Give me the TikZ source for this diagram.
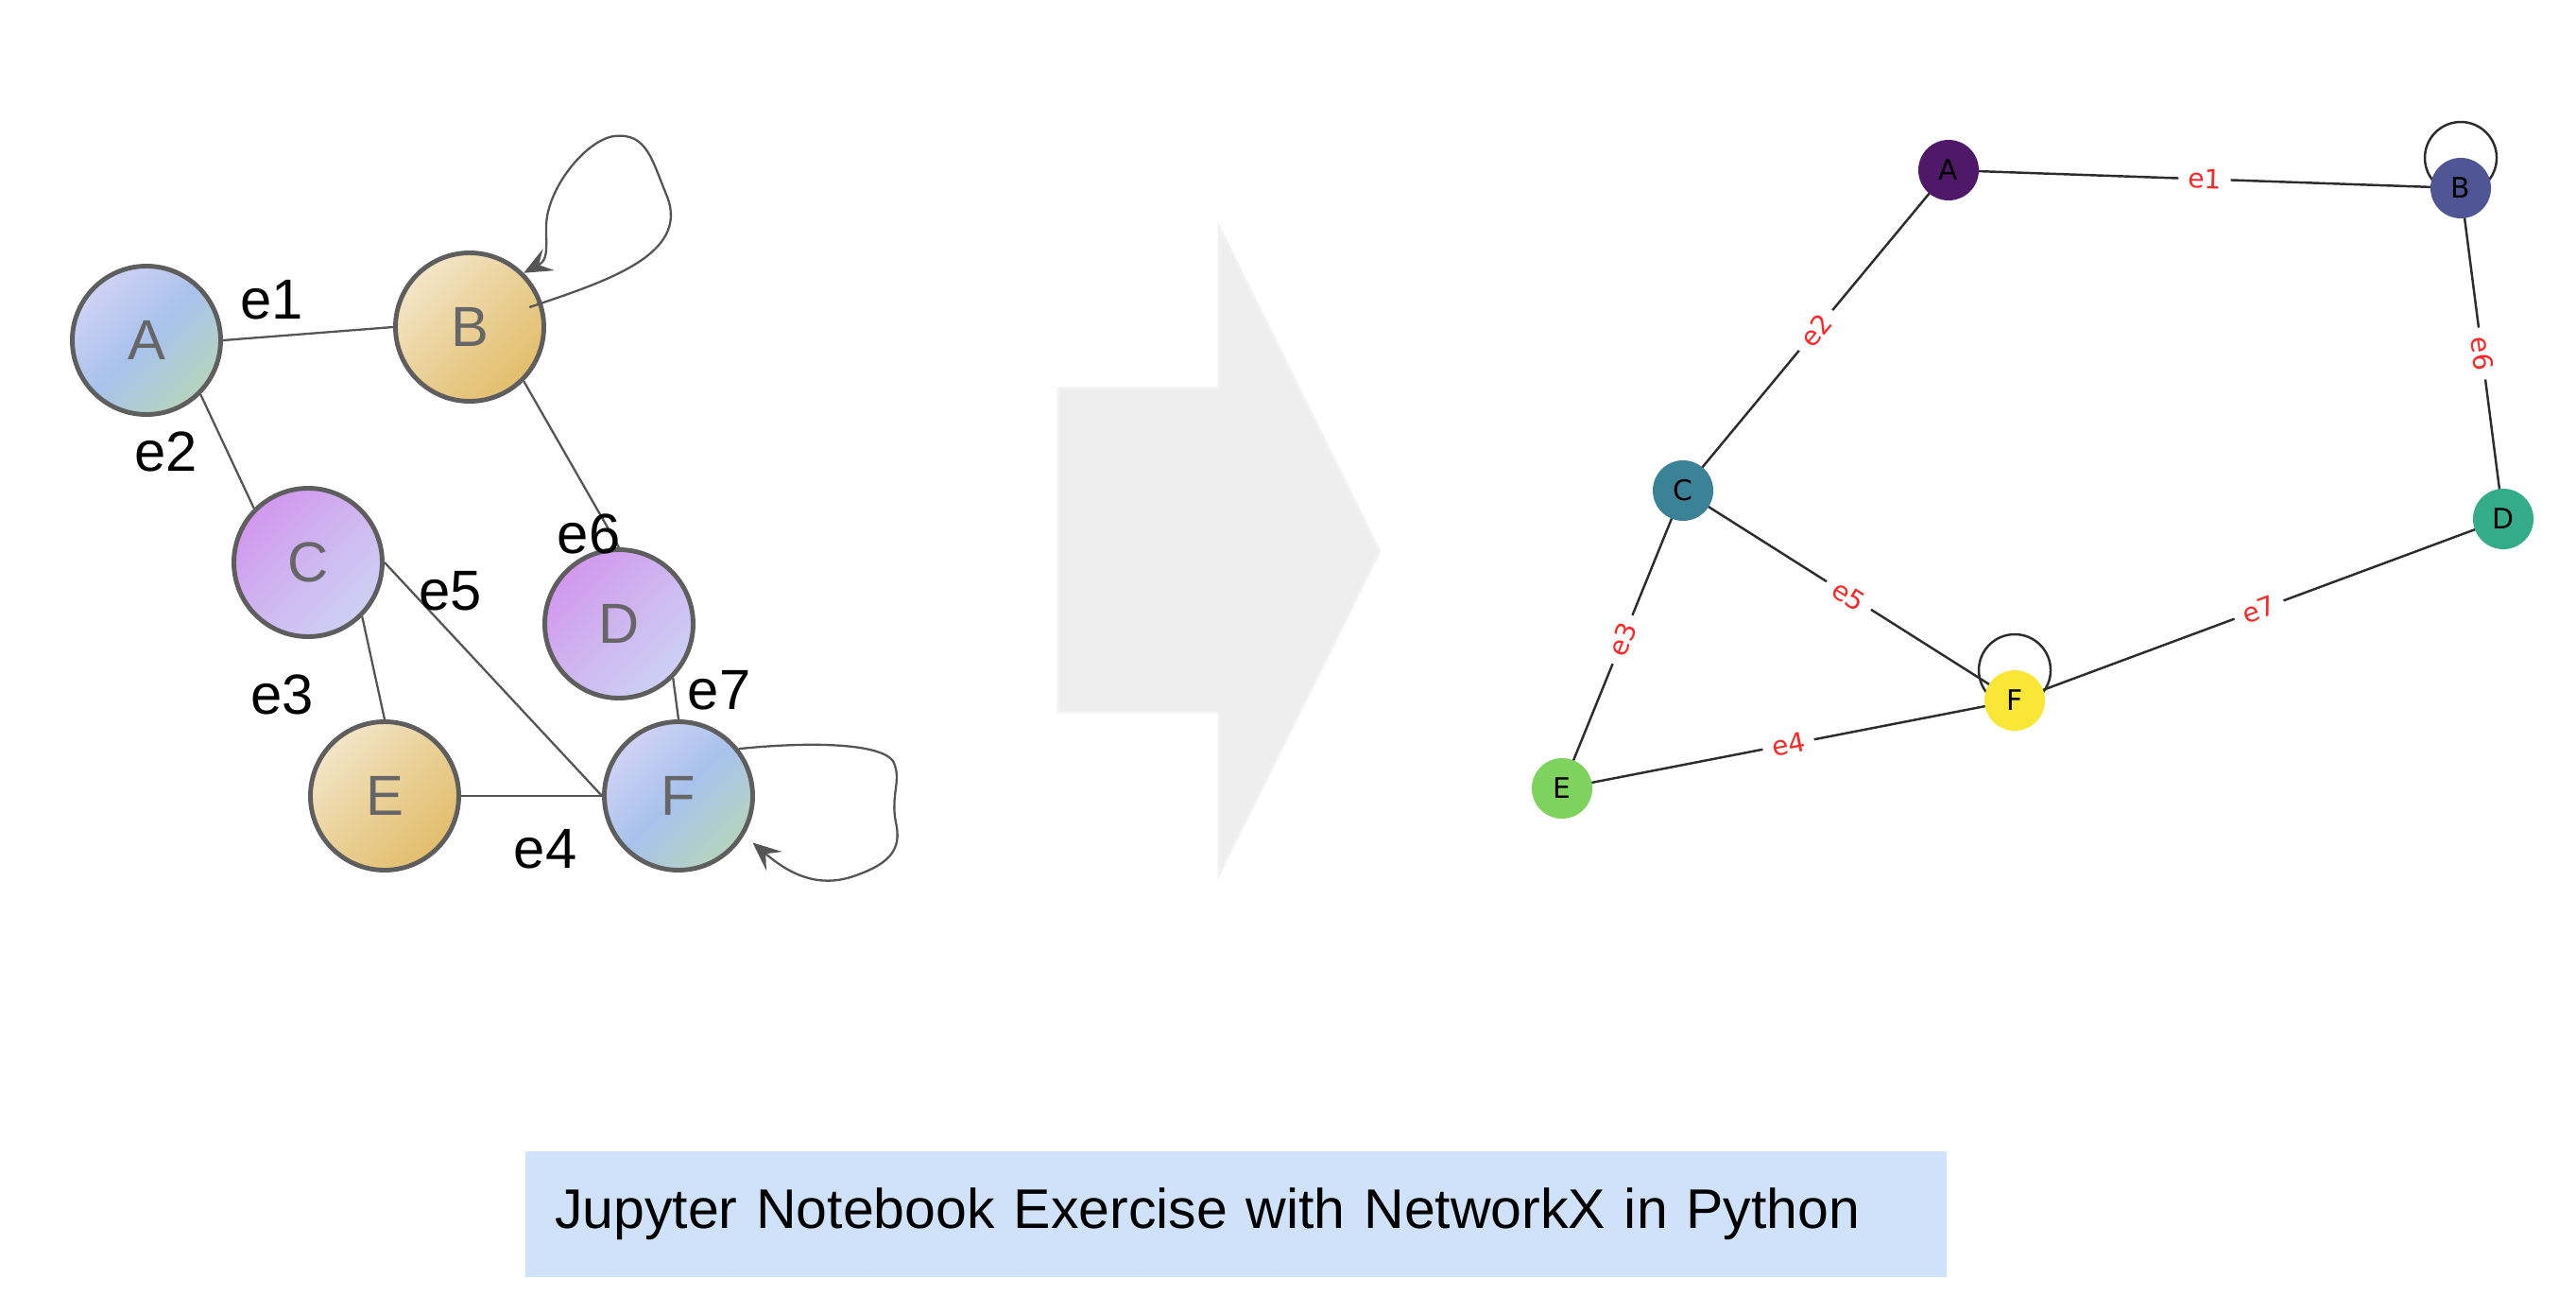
\documentclass[tikz,border=0pt]{standalone}
\usepackage{fontspec}
\setmainfont{Liberation Sans}
\newfontfamily\nxfont{DejaVu Sans}
\usetikzlibrary{arrows.meta}
\definecolor{rimgray}{RGB}{94,94,94}
\definecolor{linkgray}{RGB}{85,85,85}
\definecolor{lettergray}{RGB}{102,102,102}
\definecolor{lav}{RGB}{208,210,245}
\definecolor{skyb}{RGB}{168,194,236}
\definecolor{sage}{RGB}{182,212,190}
\definecolor{sand}{RGB}{243,229,200}
\definecolor{wheat}{RGB}{234,208,150}
\definecolor{gold}{RGB}{226,190,108}
\definecolor{orchid}{RGB}{210,152,238}
\definecolor{lilac}{RGB}{207,182,240}
\definecolor{mist}{RGB}{205,208,244}
\definecolor{arrowgray}{RGB}{238,238,238}
\definecolor{arrowrim}{RGB}{242,242,242}
\definecolor{capblue}{RGB}{207,226,249}
\definecolor{vA}{RGB}{80,24,104}
\definecolor{vB}{RGB}{80,85,150}
\definecolor{vC}{RGB}{60,130,150}
\definecolor{vD}{RGB}{52,172,138}
\definecolor{vE}{RGB}{126,210,94}
\definecolor{vF}{RGB}{250,230,55}
\definecolor{nxline}{RGB}{45,45,45}
\definecolor{nxred}{RGB}{255,40,40}
\tikzset{
  gnode/.style={circle, draw=rimgray, line width=1.4pt, minimum size=1.57cm,
    inner sep=0pt, text=lettergray, font=\fontsize{17}{20}\selectfont},
  bluenode/.style={gnode, top color=lav, bottom color=sage, middle color=skyb, shading angle=45},
  goldnode/.style={gnode, top color=sand, bottom color=gold, middle color=wheat, shading angle=45},
  purplenode/.style={gnode, top color=orchid, bottom color=mist, middle color=lilac, shading angle=45},
  link/.style={draw=linkgray, line width=0.65pt},
  selfloop/.style={draw=linkgray, line width=0.65pt, -{Stealth[length=3mm,width=2.6mm,inset=1.2mm]}},
  elabel/.style={font=\fontsize{17}{20}\selectfont, inner sep=0pt},
  nxnode/.style={circle, minimum size=0.64cm, inner sep=0pt, font=\nxfont\fontsize{8.5}{10}\selectfont},
  nxedge/.style={draw=nxline, line width=0.7pt},
  nxlabel/.style={midway, sloped, fill=white, inner sep=1mm, text=nxred,
    font=\nxfont\fontsize{8}{9}\selectfont},
  titlebox/.style={fill=capblue, text width=14.42cm, inner xsep=3.1mm, minimum height=1.33cm,
    align=left, font=\fontsize{16.8}{20}\selectfont}
}
\begin{document}
\begin{tikzpicture}
\useasboundingbox (0,0) rectangle (27.26,13.70);
% hand drawn graph
\node[bluenode] (A) at (1.55,10.10) {A};
\node[goldnode] (B) at (4.97,10.24) {B};
\node[purplenode] (C) at (3.26,7.75) {C};
\node[purplenode] (D) at (6.55,7.10) {D};
\node[goldnode] (E) at (4.07,5.28) {E};
\node[bluenode] (F) at (7.18,5.28) {F};
\draw[link] (A.east) -- (B.west);
\draw[link] (A.-45) -- (C.135);
\draw[link] (C.-45) -- (E.north);
\draw[link] (E.east) -- (F.west);
\draw[link] (C.east) -- (F.west);
\draw[link] (B.-45) -- (D.north);
\draw[link] (D.-45) -- (F.north);
\node[elabel] at (2.88,10.53) {e1};
\node[elabel] at (1.76,8.92) {e2};
\node[elabel] at (2.99,6.35) {e3};
\node[elabel] at (5.77,4.72) {e4};
\node[elabel] at (4.77,7.45) {e5};
\node[elabel] at (6.23,8.05) {e6};
\node[elabel] at (7.61,6.40) {e7};
% loops
\draw[selfloop] ([xshift=-1.5mm]B.15) .. controls (6.4,10.72) and (7.3,11.0) .. (7.06,11.62)
  .. controls (6.9,12.0) and (6.85,12.3) .. (6.5,12.26)
  .. controls (6.2,12.22) and (5.78,11.7) .. (5.78,11.3)
  .. controls (5.78,11.05) and (5.8,10.95) .. (B.45);
\draw[selfloop, shorten >=1.2mm] (F.38) .. controls (8.5,5.85) and (9.3,5.85) .. (9.45,5.65)
  .. controls (9.55,5.45) and (9.42,5.3) .. (9.48,5.0)
  .. controls (9.55,4.7) and (9.4,4.55) .. (9.0,4.42)
  .. controls (8.6,4.3) and (8.3,4.5) .. (F.-31);
% big arrow
\filldraw[fill=arrowgray, draw=arrowrim, line width=0.8pt] (11.20,9.59) -- (12.90,9.59) -- (12.90,11.30)
  -- (14.60,7.87) -- (12.90,4.45) -- (12.90,6.17) -- (11.20,6.17) -- cycle;
% networkx drawing
\coordinate (nxA) at (20.62,11.90);
\coordinate (nxB) at (26.04,11.71);
\coordinate (nxC) at (17.81,8.51);
\coordinate (nxD) at (26.49,8.21);
\coordinate (nxE) at (16.53,5.36);
\coordinate (nxF) at (21.32,6.29);
\draw[nxedge] ([yshift=3.2mm]nxB) circle (0.38);
\draw[nxedge] ([yshift=3.2mm]nxF) circle (0.38);
\foreach \a/\b/\l in {A/B/e1,A/C/e2,C/E/e3,E/F/e4,C/F/e5,B/D/e6,F/D/e7}
  \draw[nxedge] (nx\a) -- node[nxlabel] {\l} (nx\b);
\foreach \n/\c in {A/vA,B/vB,C/vC,D/vD,E/vE,F/vF}
  \node[nxnode, fill=\c] (nx\n node) at (nx\n) {\n};
% caption
\node[titlebox] (title) at (13.08,0.855) {Jupyter Notebook Exercise with NetworkX in Python};
\end{tikzpicture}
\end{document}
